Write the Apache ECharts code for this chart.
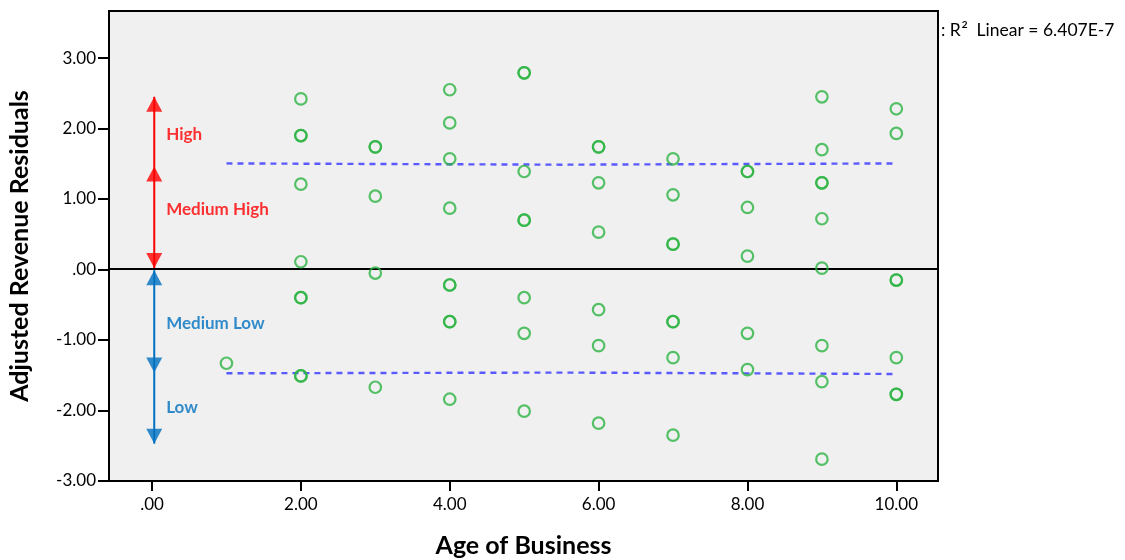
<!DOCTYPE html>
<html>
<head>
<meta charset="utf-8">
<script src="https://cdn.jsdelivr.net/npm/echarts@6/dist/echarts.min.js"></script>
<style>html,body{margin:0;padding:0;background:#fff}#c{width:1125px;height:560px}</style>
</head>
<body>
<div id="c"></div>
<script>
// ---- data ----
const ages = [1, 2, 3, 4, 5, 6, 7, 8, 9, 10];
const residuals = [
  [-1.33],
  [2.42, 1.90, 1.90, 1.21, 0.11, -0.40, -0.40, -1.51, -1.51],
  [1.74, 1.74, 1.04, -0.05, -1.67],
  [2.55, 2.08, 1.57, 0.87, -0.22, -0.22, -0.74, -0.74, -1.84],
  [2.79, 2.79, 1.39, 0.70, 0.70, -0.40, -0.905, -2.01],
  [1.74, 1.74, 1.23, 0.53, -0.57, -1.08, -2.18],
  [1.57, 1.06, 0.36, 0.36, -0.74, -0.74, -1.25, -2.35],
  [1.39, 1.39, 0.88, 0.19, -0.905, -1.42],
  [2.45, 1.70, 1.23, 1.23, 0.72, 0.02, -1.08, -1.59, -2.69],
  [2.28, 1.93, -0.15, -0.15, -1.25, -1.77, -1.77]
];
const upperFitX = [1, 5.5, 10];
const upperFitY = [1.505, 1.487, 1.505];
const lowerFitX = [1, 5.5, 10];
const lowerFitY = [-1.472, -1.462, -1.482];
const yTicks = [-3, -2, -1, 0, 1, 2, 3];
const xTicks = [0, 2, 4, 6, 8, 10];
const bandX = 0.03;
const redLine = [0.02, 2.45];
const redUpTips = [2.45, 1.46];
const redDownTips = [0.02];
const blueLine = [-0.01, -2.47];
const blueUpTips = [-0.01];
const blueDownTips = [-1.46, -2.47];
const bandLabels = ['High', 'Medium High', 'Medium Low', 'Low'];
const bandLabelY = [1.91, 0.85, -0.76, -1.955];
const bandLabelColors = ['#ff0000', '#ff0000', '#0070c0', '#0070c0'];
const bandLabelX = 0.19;
const zeroLineY = 0.01;
const r2Text = '6.407E-7';

// ---- build ----
const points = [];
ages.forEach((a, i) => residuals[i].forEach(v => points.push([a, v])));
const fmt = v => {
  if (v === 0) return '.00';
  return v.toFixed(2);
};
const font = 'Lato, "Noto Sans", sans-serif';
const arrowSeries = (tips, color, up) => ({
  type: 'scatter',
  data: tips.map(v => [bandX, v]),
  symbol: 'triangle',
  symbolSize: [16, 15],
  symbolRotate: up ? 0 : 180,
  symbolOffset: [0, up ? '50%' : '-50%'],
  itemStyle: { color: color },
  silent: true,
  z: 5
});

const chart = echarts.init(document.getElementById('c'), null, { renderer: 'canvas' });
chart.setOption({
  animation: false,
  backgroundColor: '#fff',
  title: {
    left: 936, top: 15,
    text: '{a|: R}{sup|2}{a|  Linear = ' + r2Text + '}',
    textStyle: {
      rich: {
        a: { fontFamily: font, fontSize: 17.5, color: '#000', fontWeight: 'normal' },
        sup: { fontFamily: font, fontSize: 10, color: '#000', padding: [0, 0, 10, 1] }
      }
    }
  },
  grid: {
    left: 109, top: 11, right: 187, bottom: 79,
    containLabel: false, outerBoundsMode: 'none',
    show: true, backgroundColor: '#f0f0f0', borderColor: '#000', borderWidth: 2
  },
  xAxis: {
    type: 'value', min: -0.578, max: 10.56,
    name: 'Age of Business', nameLocation: 'middle', nameGap: 52,
    nameTextStyle: { fontFamily: font, fontSize: 25, fontWeight: 'bold', color: '#000' },
    axisLine: { show: true, onZero: false, lineStyle: { color: '#000', width: 2 } },
    axisTick: { show: true, length: 10, customValues: xTicks, lineStyle: { color: '#000', width: 2 } },
    axisLabel: { customValues: xTicks, formatter: fmt, fontFamily: font, fontSize: 17, color: '#000', margin: 15 },
    splitLine: { show: false }
  },
  yAxis: {
    type: 'value', min: -3, max: 3.667,
    name: 'Adjusted Revenue Residuals', nameLocation: 'middle', nameGap: 77,
    nameTextStyle: { fontFamily: font, fontSize: 25, fontWeight: 'bold', color: '#000' },
    axisLine: { show: true, onZero: false, lineStyle: { color: '#000', width: 2 } },
    axisTick: { show: true, length: 11, customValues: yTicks, lineStyle: { color: '#000', width: 2 } },
    axisLabel: { customValues: yTicks, formatter: fmt, fontFamily: font, fontSize: 17, color: '#000', margin: 13 },
    splitLine: { show: false }
  },
  series: [
    {
      type: 'line',
      data: [],
      markLine: {
        silent: true, symbol: 'none', label: { show: false },
        lineStyle: { color: '#000', width: 2, type: 'solid' },
        data: [{ yAxis: zeroLineY }]
      }
    },
    {
      type: 'line', data: upperFitX.map((x, i) => [x, upperFitY[i]]),
      showSymbol: false, symbol: 'none',
      lineStyle: { color: '#5a5aff', width: 2.4, type: [6, 5] }, z: 3
    },
    {
      type: 'line', data: lowerFitX.map((x, i) => [x, lowerFitY[i]]),
      showSymbol: false, symbol: 'none',
      lineStyle: { color: '#5a5aff', width: 2.4, type: [6, 5] }, z: 3
    },
    {
      type: 'line', data: redLine.map(v => [bandX, v]), symbol: 'none',
      lineStyle: { color: '#ff0000', width: 2 }, z: 4
    },
    {
      type: 'line', data: blueLine.map(v => [bandX, v]), symbol: 'none',
      lineStyle: { color: '#0070c0', width: 2 }, z: 4
    },
    arrowSeries(redUpTips, '#ff0000', true),
    arrowSeries(redDownTips, '#ff0000', false),
    arrowSeries(blueUpTips, '#0070c0', true),
    arrowSeries(blueDownTips, '#0070c0', false),
    {
      type: 'scatter',
      data: bandLabels.map((t, i) => ({
        value: [bandLabelX, bandLabelY[i]], name: t,
        label: { color: bandLabelColors[i] }
      })),
      symbolSize: 0,
      silent: true,
      label: {
        show: true, position: 'right', distance: 0, formatter: '{b}',
        fontFamily: font, fontSize: 17, fontWeight: 'bold'
      },
      z: 6
    },
    {
      type: 'scatter',
      data: points,
      symbol: 'circle',
      symbolSize: 11.5,
      itemStyle: { color: 'rgba(0,0,0,0)', borderColor: '#2db444', borderWidth: 2.2 },
      z: 7
    }
  ]
});
</script>
</body>
</html>
